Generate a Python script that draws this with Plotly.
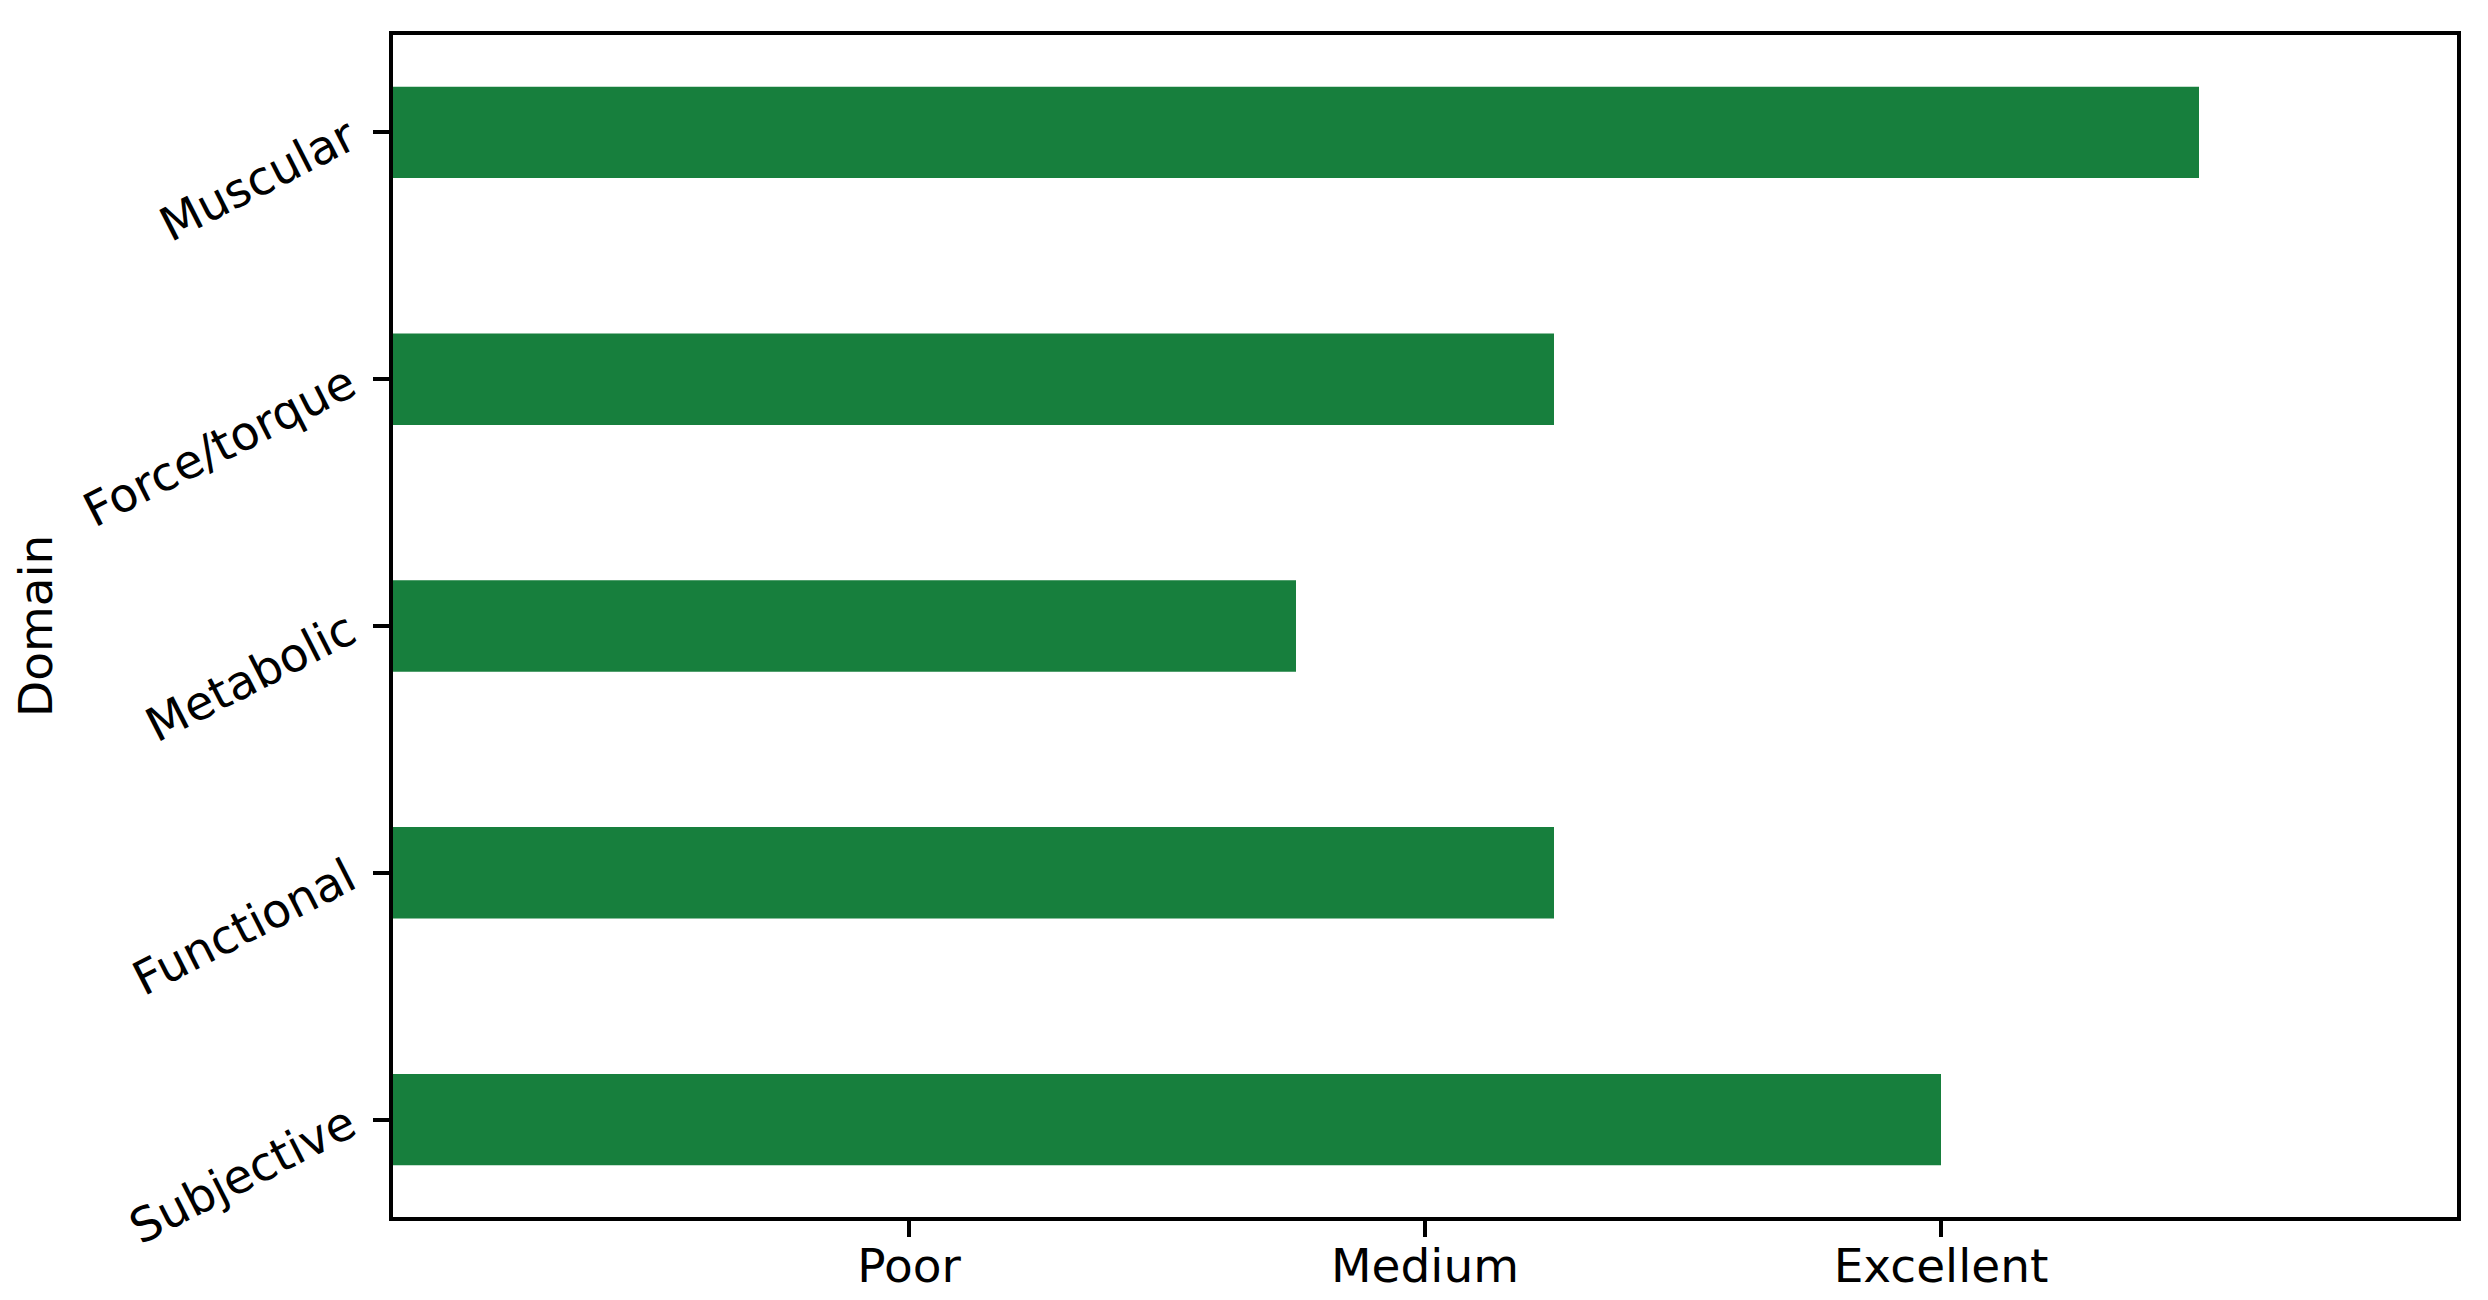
import plotly.graph_objects as go

categories = ["Subjective", "Functional", "Metabolic", "Force/torque", "Muscular"]
values = [3.0, 2.25, 1.75, 2.25, 3.5]
tick_values = [1, 2, 3]
tick_labels = ["Poor", "Medium", "Excellent"]

W, H = 2488, 1300
L, R, T, B = 393, 31, 35, 83
FONT = "DejaVu Sans"
FS = 47
GREEN = "#177F3D"

fig = go.Figure(
    go.Bar(
        y=categories,
        x=values,
        orientation="h",
        marker=dict(color=GREEN, line=dict(width=0)),
        width=0.37,
    )
)

fig.update_layout(
    width=W,
    height=H,
    margin=dict(l=L, r=R, t=T, b=B, pad=0),
    paper_bgcolor="white",
    plot_bgcolor="white",
    showlegend=False,
    font=dict(family=FONT, size=FS, color="black"),
)

fig.update_xaxes(
    range=[0, 4],
    tickmode="array",
    tickvals=tick_values,
    ticktext=tick_labels,
    showgrid=False,
    zeroline=False,
    showline=True,
    linecolor="black",
    linewidth=4,
    mirror=True,
    ticks="outside",
    ticklen=16,
    tickwidth=3.5,
    tickcolor="black",
    ticklabelstandoff=-11,
    tickfont=dict(family=FONT, size=FS, color="black"),
    automargin=False,
)

fig.update_yaxes(
    type="category",
    categoryorder="array",
    categoryarray=categories,
    range=[-0.395, 4.395],
    showgrid=False,
    zeroline=False,
    showline=True,
    linecolor="black",
    linewidth=4,
    mirror=True,
    ticks="outside",
    ticklen=16,
    tickwidth=3.5,
    tickcolor="black",
    tickangle=-27,
    ticklabelstandoff=15,
    tickfont=dict(family=FONT, size=FS, color="black"),
    automargin=False,
)

plot_w = W - L - R
fig.add_annotation(
    text="Domain",
    xref="paper",
    yref="paper",
    x=(35 - L) / plot_w,
    y=0.5,
    xanchor="center",
    yanchor="middle",
    textangle=-90,
    showarrow=False,
    font=dict(family=FONT, size=FS, color="black"),
)

fig.write_html(
    "out.html",
    config={"displayModeBar": False},
    post_script="document.body.style.margin='0';document.body.style.padding='0';",
)
